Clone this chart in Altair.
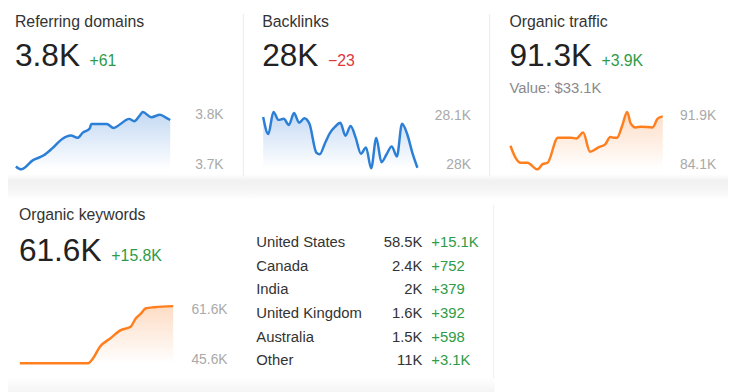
import altair as alt
import pandas as pd

OX, OY = 8, 8  # page margin offset
FONT = "Liberation Sans"
BLUE = "#2c7fd6"
ORANGE = "#ff7f1e"
GREEN = "#2e9b48"
RED = "#e0353b"
GRAY = "#a9a9a9"

# ---- data ----
rd_day = [0, 3, 10, 16, 21, 27, 32, 36, 39, 43, 44, 53, 57, 61, 66, 69, 72, 74, 79, 84, 87, 90]
rd_val = [3705, 3700, 3716, 3724, 3736, 3753, 3759, 3755, 3764, 3771, 3779, 3779, 3772, 3779,
          3788, 3784, 3793, 3800, 3791, 3795, 3791, 3786]

bl_day = [0, 3, 6, 9, 12, 15, 18, 21, 24, 27, 31, 33, 36, 39, 42, 45, 48, 51, 54, 57, 60, 63,
          66, 69, 72, 75, 78, 81, 84, 87, 90]
bl_val = [28091, 28061, 28100, 28086, 28088, 28077, 28098, 28081, 28089, 28079, 28028, 28025,
          28044, 28063, 28074, 28081, 28058, 28075, 28054, 28026, 28037, 28000, 28054, 28011,
          28025, 28039, 28021, 28079, 28061, 28028, 28001]

ot_day = [0, 3, 6, 10, 16, 19, 22, 28, 36, 39, 43, 47, 52, 56, 59, 61, 63, 66, 69, 71, 74, 77, 84, 87, 90]
ot_val = [87.3, 85.7, 85.0, 85.0, 84.1, 84.8, 85.0, 88.4, 88.4, 88.3, 89.1, 86.5, 87.1, 87.5,
          88.5, 88.4, 88.4, 90.0, 91.9, 90.4, 89.8, 89.9, 89.8, 91.0, 91.3]

ok_day = [0, 17, 40, 43, 47, 53, 59, 65, 68, 71, 74, 79, 90]
ok_val = [45.6, 45.6, 45.6, 47.0, 50.2, 52.5, 54.8, 55.8, 58.1, 59.5, 61.0, 61.3, 61.6]

countries = ["United States", "Canada", "India", "United Kingdom", "Australia", "Other"]
country_vals = ["58.5K", "2.4K", "2K", "1.6K", "1.5K", "11K"]
country_chg = ["+15.1K", "+752", "+379", "+392", "+598", "+3.1K"]

one = pd.DataFrame({"a": [0]})


def txt(s, x, y, size, color, align="left", baseline="alphabetic"):
    return alt.Chart(one).mark_text(
        font=FONT, fontSize=size, color=color, align=align, baseline=baseline
    ).encode(x=alt.value(x - OX), y=alt.value(y - OY), text=alt.value(s))


def spark(days, vals, lo, hi, xr, yr, color, fill, lab_x, hi_lab, lo_lab, dy_hi, dy_lo):
    df = pd.DataFrame({"day": days, "v": vals})
    xs = alt.X("day:Q", scale=alt.Scale(domain=[0, 90], range=[xr[0] - OX, xr[1] - OX]), axis=None)
    ys = alt.Y("v:Q", scale=alt.Scale(domain=[lo, hi], range=[yr[0] - OY, yr[1] - OY],
                                      zero=False, nice=False), axis=None)
    grad = alt.Gradient(gradient="linear", x1=0, x2=0, y1=0, y2=1,
                        stops=[alt.GradientStop(color=fill, offset=0),
                               alt.GradientStop(color="#ffffff", offset=1)])
    area = alt.Chart(df).mark_area(interpolate="monotone", color=grad).encode(
        x=xs, y=ys, y2=alt.datum(lo))
    line = alt.Chart(df).mark_line(interpolate="monotone", color=color, strokeWidth=2.5).encode(
        x=xs, y=ys)
    t_hi = alt.Chart(one).mark_text(font=FONT, fontSize=14, color=GRAY, align="right",
                                    baseline="middle", dy=dy_hi).encode(
        x=alt.value(lab_x - OX), y=alt.datum(hi), text=alt.value(hi_lab))
    t_lo = alt.Chart(one).mark_text(font=FONT, fontSize=14, color=GRAY, align="right",
                                    baseline="middle", dy=dy_lo).encode(
        x=alt.value(lab_x - OX), y=alt.datum(lo), text=alt.value(lo_lab))
    return alt.layer(area, line, t_hi, t_lo)


# ---- background pieces ----
band_grad = alt.Gradient(gradient="linear", x1=0, x2=0, y1=0, y2=1,
                         stops=[alt.GradientStop(color="#ffffff", offset=0),
                                alt.GradientStop(color="#f1f1f1", offset=0.25),
                                alt.GradientStop(color="#f5f5f5", offset=0.6),
                                alt.GradientStop(color="#ffffff", offset=1)])
band = alt.Chart(one).mark_rect(color=band_grad).encode(
    x=alt.value(0), x2=alt.value(736), y=alt.value(174 - OY), y2=alt.value(200 - OY))
bottom_grad = alt.Gradient(gradient="linear", x1=0, x2=0, y1=0, y2=1,
                           stops=[alt.GradientStop(color="#ffffff", offset=0),
                                  alt.GradientStop(color="#f1f1f1", offset=1)])
bottom = alt.Chart(one).mark_rect(color=bottom_grad).encode(
    x=alt.value(0), x2=alt.value(500 - OX), y=alt.value(379 - OY), y2=alt.value(392))
sep1 = alt.Chart(one).mark_rule(color="#ebebeb", strokeWidth=1).encode(
    x=alt.value(246 - OX), y=alt.value(12 - OY), y2=alt.value(176 - OY))
sep2 = alt.Chart(one).mark_rule(color="#ebebeb", strokeWidth=1).encode(
    x=alt.value(495 - OX), y=alt.value(12 - OY), y2=alt.value(176 - OY))
sep3 = alt.Chart(one).mark_rule(color="#efefef", strokeWidth=1).encode(
    x=alt.value(499 - OX), y=alt.value(205 - OY), y2=alt.value(380 - OY))

# ---- sparklines ----
s1 = spark(rd_day, rd_val, 3700, 3800, (16, 172), (169, 111), BLUE, "#c3d9f3",
           226, "3.8K", "3.7K", 3, -4)
s2 = spark(bl_day, bl_val, 28000, 28100, (266, 422), (168, 111), BLUE, "#c3d9f3",
           476, "28.1K", "28K", 4, -3)
s3 = spark(ot_day, ot_val, 84.1, 91.9, (516, 670), (169, 111), ORANGE, "#fddcc4",
           724, "91.9K", "84.1K", 4, -4)
s4 = spark(ok_day, ok_val, 45.6, 61.6, (20, 175), (365, 307.3), ORANGE, "#fddcc4",
           230, "61.6K", "45.6K", 4, -3)

# ---- headline texts ----
texts = [
    txt("Referring domains", 15, 25, 16, "#333333"),
    txt("3.8K", 15, 65, 32, "#222222"),
    txt("+61", 90.5, 65, 16, GREEN),
    txt("Backlinks", 265, 25, 16, "#333333"),
    txt("28K", 265, 65, 32, "#222222"),
    txt("\u221223", 331.5, 65, 16, RED),
    txt("Organic traffic", 515, 25, 16, "#333333"),
    txt("91.3K", 515, 65, 32, "#222222"),
    txt("+3.9K", 608, 65, 16, GREEN),
    txt("Value: $33.1K", 515, 92, 15, "#8a8a8a"),
    txt("Organic keywords", 19, 220, 16, "#333333"),
    txt("61.6K", 19, 262, 32, "#222222"),
    txt("+15.8K", 112.5, 262, 16, GREEN),
]

# ---- country table ----
tdf = pd.DataFrame({"country": countries, "val": country_vals, "chg": country_chg})
ty = alt.Y("country:N", sort=None, axis=None,
           scale=alt.Scale(type="point", range=[242.5 - OY, 362 - OY], padding=0))
tc = alt.Chart(tdf).mark_text(font=FONT, fontSize=15, color="#333333", align="left",
                              baseline="middle").encode(
    x=alt.value(259 - OX), y=ty, text="country:N")
tv = alt.Chart(tdf).mark_text(font=FONT, fontSize=15, color="#333333", align="right",
                              baseline="middle").encode(
    x=alt.value(427 - OX), y=ty, text="val:N")
tg = alt.Chart(tdf).mark_text(font=FONT, fontSize=15, color=GREEN, align="left",
                              baseline="middle").encode(
    x=alt.value(436 - OX), y=ty, text="chg:N")
table = alt.layer(tc, tv, tg)

chart = alt.layer(
    band, bottom, sep1, sep2, sep3, s1, s2, s3, s4, table, *texts
).resolve_scale(x="independent", y="independent").properties(
    width=736 - 2 * OX + 8, height=392 - 2 * OY + 8, autosize="none", padding=0,
    background="#ffffff"
).configure_view(strokeWidth=0)

chart.save("out.html", embed_options={"renderer": "svg", "actions": False})
